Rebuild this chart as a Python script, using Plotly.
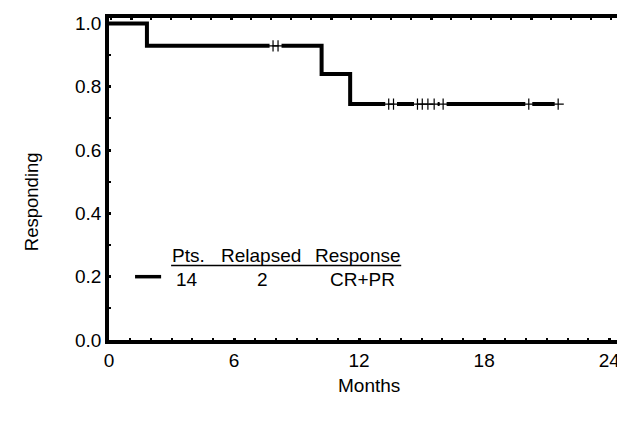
import plotly.graph_objects as go

# ---- data ----
event_months = [0.0, 1.82, 10.2, 11.57, 21.55]
survival = [1.0, 0.929, 0.840, 0.745, 0.745]
censor_months = [7.87, 8.11, 13.42, 13.65, 14.8, 15.03, 15.3, 15.6, 16.03, 20.14, 21.55]
censor_surv = [0.929, 0.929, 0.745, 0.745, 0.745, 0.745, 0.745, 0.745, 0.745, 0.745, 0.745]

x_ticks = [0, 6, 12, 18, 24]
y_ticks = [0.0, 0.2, 0.4, 0.6, 0.8, 1.0]
y_tick_labels = ["0.0", "0.2", "0.4", "0.6", "0.8", "1.0"]

legend_header = ["Pts.", "Relapsed", "Response"]
legend_row = ["14", "2", "CR+PR"]
legend_cols = [3.79, 7.27, 11.93]
legend_row_cols = [3.72, 7.37, 12.15]

FONT = "Liberation Sans, Arial, sans-serif"
FS = 19

fig = go.Figure()

fig.add_trace(go.Scatter(
    x=event_months, y=survival, mode="lines", line_shape="hv",
    line=dict(color="black", width=4), showlegend=False, hoverinfo="skip"))

# gap in the thick line at each censored time
fig.add_trace(go.Scatter(
    x=censor_months, y=censor_surv, mode="markers",
    marker=dict(symbol="square", size=7, color="white", line=dict(width=0)),
    showlegend=False, hoverinfo="skip"))
fig.add_trace(go.Scatter(
    x=censor_months, y=censor_surv, mode="markers",
    marker=dict(symbol="cross-thin", size=8, color="black",
                line=dict(width=1.2, color="black")),
    showlegend=False, hoverinfo="skip"))

# empty trace to activate top/right tick axes
fig.add_trace(go.Scatter(x=[], y=[], xaxis="x2", yaxis="y2", showlegend=False))

axis_common = dict(showgrid=False, zeroline=False, showline=True, linecolor="black",
                   linewidth=3.5, ticks="inside", tickcolor="black",
                   tickfont=dict(family=FONT, size=FS, color="black"), fixedrange=True)

major = dict(ticklen=2.5, tickwidth=3)
minor_style = dict(ticks="inside", ticklen=2, tickwidth=2, tickcolor="black")

fig.update_layout(
    width=625, height=423,
    margin=dict(l=101, r=5, t=10, b=91),
    paper_bgcolor="white", plot_bgcolor="white",
    font=dict(family=FONT, size=FS, color="black"),
    xaxis=dict(**axis_common, **major, range=[0, 24.9], tickmode="array",
               tickvals=x_ticks, minor=dict(**minor_style, dtick=1, tick0=0)),
    yaxis=dict(**axis_common, **major, range=[0, 1.017], tickmode="array",
               tickvals=y_ticks, ticktext=y_tick_labels,
               minor=dict(**minor_style, dtick=0.1, tick0=0)),
    xaxis2=dict(**axis_common, **major, overlaying="x", side="top", anchor="y2",
                range=[-1.22, 3.97], dtick=1, tick0=0, showticklabels=False,
                minor=dict(**minor_style, dtick=0.2)),
    yaxis2=dict(**axis_common, **major, overlaying="y", side="right", anchor="x2",
                range=[0, 12], dtick=1, tick0=0, showticklabels=False,
                minor=dict(**minor_style, dtick=0.5)),
)

ann = []
ann.append(dict(text="Responding", textangle=-90, xref="paper", yref="paper",
                x=-0.148, y=0.4286, xanchor="center", yanchor="middle",
                showarrow=False, font=dict(family=FONT, size=18.5, color="black")))
ann.append(dict(text="Months", xref="paper", yref="paper", x=0.501, y=-0.14,
                xanchor="center", yanchor="middle", showarrow=False,
                font=dict(family=FONT, size=FS, color="black")))
for label, cx in zip(legend_header, legend_cols):
    ann.append(dict(text=label, xref="x", yref="y", x=cx, y=0.268, xanchor="center",
                    yanchor="middle", showarrow=False,
                    font=dict(family=FONT, size=FS, color="black")))
for label, cx in zip(legend_row, legend_row_cols):
    ann.append(dict(text=label, xref="x", yref="y", x=cx, y=0.192, xanchor="center",
                    yanchor="middle", showarrow=False,
                    font=dict(family=FONT, size=FS, color="black")))
fig.update_layout(annotations=ann)

fig.update_layout(shapes=[
    dict(type="line", xref="x", yref="y", x0=2.98, x1=14.02, y0=0.235, y1=0.235,
         line=dict(color="black", width=1.5)),
    dict(type="line", xref="x", yref="y", x0=1.25, x1=2.5, y0=0.2, y1=0.2,
         line=dict(color="black", width=3.5)),
])

fig.write_html("out.html")
